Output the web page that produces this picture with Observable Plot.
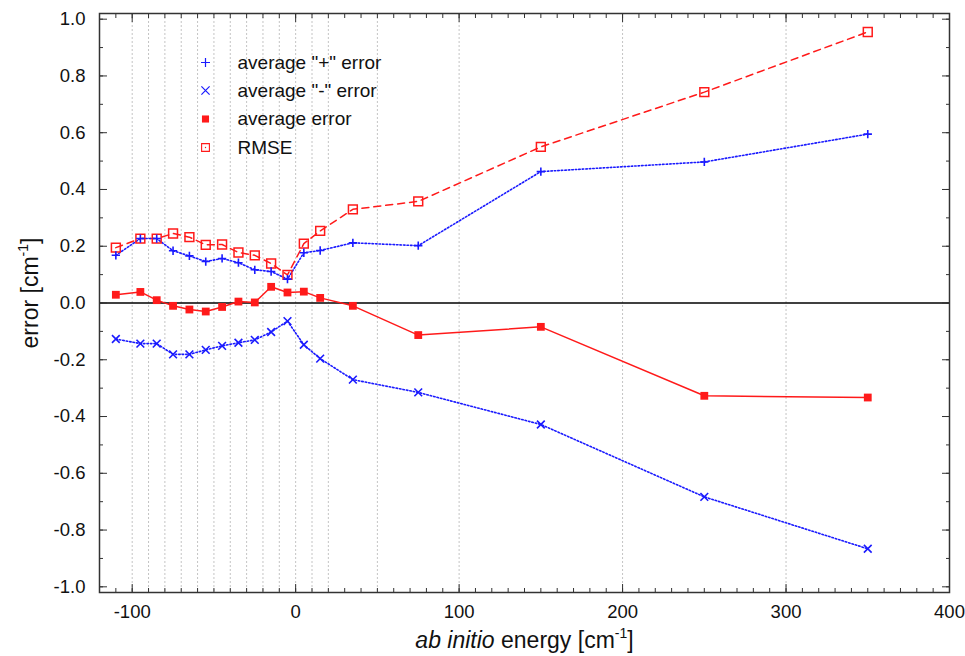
<!DOCTYPE html>
<html><head><meta charset="utf-8">
<script src="https://cdn.jsdelivr.net/npm/d3@7"></script>
<script src="https://cdn.jsdelivr.net/npm/@observablehq/plot@0.6"></script>
<style>body{margin:0;background:#fff;} #chart svg{display:block}</style>
</head><body><div id="chart"></div>
<script>
// bin-centre energies (cm^-1)
const energy   = [-110, -95, -85, -75, -65, -55, -45, -35, -25, -15, -5, 5, 15, 35, 75, 150, 250, 350];
const avgPlus  = [0.168, 0.227, 0.227, 0.184, 0.166, 0.146, 0.157, 0.142, 0.117, 0.111, 0.084, 0.177, 0.185, 0.212, 0.202, 0.463, 0.497, 0.595];
const avgMinus = [-0.127, -0.143, -0.143, -0.181, -0.181, -0.165, -0.151, -0.140, -0.130, -0.102, -0.064, -0.147, -0.196, -0.270, -0.315, -0.428, -0.683, -0.866];
const avgErr   = [0.029, 0.039, 0.010, -0.010, -0.023, -0.030, -0.014, 0.005, 0.002, 0.057, 0.037, 0.040, 0.018, -0.010, -0.113, -0.084, -0.327, -0.333];
const rmse     = [0.195, 0.227, 0.227, 0.245, 0.232, 0.205, 0.206, 0.178, 0.168, 0.139, 0.099, 0.209, 0.254, 0.330, 0.358, 0.550, 0.743, 0.955];

const xMajorTicks = [-100, 0, 100, 200, 300, 400];
const xMinorTicks = d3.range(-120, 401, 10);
const yMajorTicks = [-1.0, -0.8, -0.6, -0.4, -0.2, 0.0, 0.2, 0.4, 0.6, 0.8, 1.0];
const yMinorTicks = d3.range(-10, 11).map(i => i / 10);
const gridLines = [-100, -90, -80, -70, -60, -50, -40, -30, -20, -10, 0, 10, 20, 50, 100, 200, 300];
const legendLabels = ['average "+" error', 'average "-" error', 'average error', 'RMSE'];
const xTitle = "ab initio energy [cm-1]";
const yTitle = "error [cm-1]";

const rows = energy.map((e, i) => ({energy: e, plus: avgPlus[i], minus: avgMinus[i], avg: avgErr[i], rmse: rmse[i]}));

const blue = "#1a1aff", red = "#ff1a1a", axisColor = "#333";
const legendDy = [49, 77, 105.5, 134];

const tickMarks = [];
for (const a of ["bottom", "top"]) {
  tickMarks.push(Plot.axisX(xMinorTicks, {anchor: a, tickSize: -4, tickFormat: () => "", stroke: axisColor, label: null}));
  tickMarks.push(Plot.axisX(xMajorTicks, {anchor: a, tickSize: -8, tickFormat: () => "", stroke: axisColor, label: null}));
}
for (const a of ["left", "right"]) {
  tickMarks.push(Plot.axisY(yMinorTicks, {anchor: a, tickSize: -4, tickFormat: () => "", stroke: axisColor, label: null}));
  tickMarks.push(Plot.axisY(yMajorTicks, {anchor: a, tickSize: -8, tickFormat: () => "", stroke: axisColor, label: null}));
}

const legendSymbols = [
  {symbol: "plus", r: 3, stroke: blue, fill: "none", strokeWidth: 1.2},
  {symbol: "times", r: 3.8, stroke: blue, fill: "none", strokeWidth: 1.2},
  {symbol: "square", r: 4, fill: red, stroke: "none"},
  {symbol: "square", r: 4.4, stroke: red, fill: "none", strokeWidth: 1.1}
];
const legendMarks = [];
legendLabels.forEach((lab, i) => {
  legendMarks.push(Plot.dot([lab], {frameAnchor: "top-left", dx: 106, dy: legendDy[i], ...legendSymbols[i]}));
  legendMarks.push(Plot.text([lab], {frameAnchor: "top-left", dx: 138, dy: legendDy[i], text: d => d, textAnchor: "start", lineAnchor: "middle", fontSize: 19, fill: "#111"}));
});
legendMarks.push(Plot.dot([0], {frameAnchor: "top-left", dx: 106, dy: legendDy[3], r: 0.7, fill: red}));

const chart = Plot.plot({
  width: 965, height: 656,
  marginLeft: 99, marginRight: 16, marginTop: 13, marginBottom: 64,
  style: {fontFamily: "'Liberation Sans', Arial, sans-serif", fontSize: "18px", background: "#fff", color: "#111"},
  x: {domain: [-120, 400], label: null},
  y: {domain: [-1.02, 1.02], label: null},
  marks: [
    Plot.gridX(gridLines, {stroke: "#c4c4c4", strokeOpacity: 1, strokeDasharray: "2,2"}),
    Plot.ruleY([0], {stroke: "#000", strokeWidth: 1.5}),
    Plot.line(rows, {x: "energy", y: "rmse", stroke: red, strokeWidth: 1.5, strokeDasharray: "7,5"}),
    Plot.line(rows, {x: "energy", y: "avg", stroke: red, strokeWidth: 1.5}),
    Plot.line(rows, {x: "energy", y: "plus", stroke: blue, strokeWidth: 1.6, strokeDasharray: "1.5,2"}),
    Plot.line(rows, {x: "energy", y: "minus", stroke: blue, strokeWidth: 1.6, strokeDasharray: "1.5,2"}),
    Plot.dot(rows, {x: "energy", y: "rmse", symbol: "square", r: 5, fill: "none", stroke: red, strokeWidth: 1.5}),
    Plot.dot(rows, {x: "energy", y: "avg", symbol: "square", r: 4.4, fill: red, stroke: "none"}),
    Plot.dot(rows, {x: "energy", y: "plus", symbol: "plus", r: 2.8, stroke: blue, fill: "none", strokeWidth: 1.6}),
    Plot.dot(rows, {x: "energy", y: "minus", symbol: "times", r: 3.6, stroke: blue, fill: "none", strokeWidth: 1.6}),
    ...tickMarks,
    Plot.axisX(xMajorTicks, {anchor: "bottom", tickSize: 0, tickPadding: 12, tickFormat: d => String(d), fontSize: 18.5, label: null}),
    Plot.axisY(yMajorTicks, {anchor: "left", tickSize: 0, tickPadding: 14, tickFormat: d => d.toFixed(1), fontSize: 18.5, label: null}),
    Plot.frame({stroke: axisColor, strokeWidth: 1.5}),
    ...legendMarks,
    Plot.text([xTitle], {frameAnchor: "bottom", dy: 48, lineAnchor: "middle", textAnchor: "middle", text: d => d, fontSize: 23, fill: "#111"}),
    Plot.text([yTitle], {frameAnchor: "left", dx: -69, dy: -10, rotate: -90, lineAnchor: "middle", textAnchor: "middle", text: d => d, fontSize: 23, fill: "#111"})
  ]
});
document.getElementById("chart").appendChild(chart);

// rich formatting for the axis titles (italic + superscript)
const ns = "http://www.w3.org/2000/svg";
function span(parent, txt, attrs = {}) {
  const t = document.createElementNS(ns, "tspan");
  for (const k in attrs) t.setAttribute(k, attrs[k]);
  t.textContent = txt;
  parent.appendChild(t);
}
chart.querySelectorAll("text").forEach(el => {
  if (el.textContent === xTitle) {
    el.textContent = "";
    span(el, "ab initio", {"font-style": "italic"});
    span(el, " energy [cm");
    span(el, "-1", {"font-size": "14", dy: "-10"});
    span(el, "]", {dy: "10"});
  } else if (el.textContent === yTitle) {
    el.textContent = "";
    span(el, "error [cm");
    span(el, "-1", {"font-size": "14", dy: "-10"});
    span(el, "]", {dy: "10"});
  }
});
</script>
</body></html>
